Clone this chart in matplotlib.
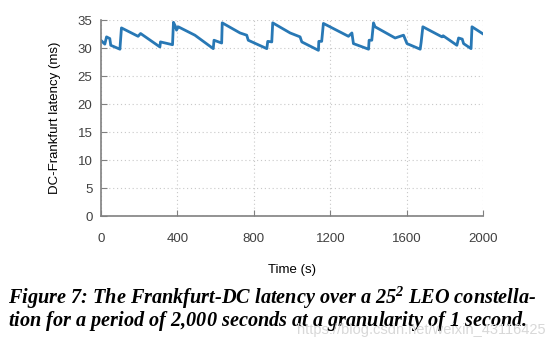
import matplotlib
matplotlib.use("Agg")
import matplotlib.pyplot as plt

# ======================================================
# DATA (line vertices)
# ======================================================
time_s = [0, 21, 30, 47, 52, 100, 102, 108, 195, 208, 309, 312, 375, 380,
          390, 396, 405, 492, 588, 592, 632, 635, 728, 763, 771, 868, 873,
          894, 899, 990, 1042, 1051, 1138, 1140, 1155, 1164, 1295, 1313,
          1321, 1400, 1403, 1417, 1426, 1434, 1539, 1583, 1601, 1670, 1675,
          1684, 1784, 1790, 1862, 1871, 1890, 1897, 1936, 1941, 2000]
latency_ms = [31.4, 30.7, 32.0, 31.7, 30.5, 29.8, 30.8, 33.6, 32.1, 32.6,
              30.2, 31.1, 30.6, 34.6, 33.9, 33.2, 33.8, 32.3, 29.9, 31.4,
              30.9, 34.5, 32.7, 32.3, 31.4, 29.9, 31.2, 31.1, 34.5, 32.7,
              32.0, 31.1, 29.6, 31.2, 31.2, 34.4, 32.1, 32.7, 30.8, 29.8,
              31.4, 31.4, 34.5, 33.8, 31.8, 32.3, 30.8, 29.8, 31.0, 33.8,
              32.0, 32.2, 30.5, 31.8, 31.6, 30.8, 29.9, 33.8, 32.5]

x_ticks = [0, 400, 800, 1200, 1600, 2000]
y_ticks = [0, 5, 10, 15, 20, 25, 30, 35]

CAPTION_1 = r"Figure 7: The Frankfurt-DC latency over a $\mathregular{25^2}$ LEO constella-"
CAPTION_2 = r"tion for a period of 2,000 seconds at a granularity of $\mathregular{1}$ second."
WATERMARK = "https://blog.csdn.net/weixin_43116425"

# ======================================================
# PLOT
# ======================================================
plt.rcParams["font.family"] = ["Liberation Sans", "DejaVu Sans"]

fig = plt.figure(figsize=(5.6, 3.52), dpi=100)
ax = fig.add_axes([0.180, 0.386, 0.683, 0.557])

ax.plot(time_s, latency_ms, color="#2878b5", lw=2.0)

ax.set_xlim(0, 2000)
ax.set_ylim(0, 35)
ax.set_xticks(x_ticks)
ax.set_yticks(y_ticks)
ax.grid(True, linestyle=(0, (1, 2.5)), color="#c8c8c8", lw=0.8)

for s in ["top", "right"]:
    ax.spines[s].set_visible(False)
for s in ["left", "bottom"]:
    ax.spines[s].set_color("#808080")
    ax.spines[s].set_linewidth(1.2)

ax.tick_params(direction="in", length=4, color="#808080",
               labelsize=9.5, labelcolor="#404040", pad=6)
ax.tick_params(axis="x", pad=12)
ax.set_xlabel("Time (s)", fontsize=9.5, labelpad=14)
ax.set_ylabel("DC-Frankfurt latency (ms)", fontsize=9.5, labelpad=12)

cap_font = dict(family="Liberation Serif", style="italic", weight="bold",
                fontsize=14.6)
fig.text(0.014, 0.138, CAPTION_1, **cap_font)
fig.text(0.014, 0.074, CAPTION_2, **cap_font)
fig.text(0.975, 0.052, WATERMARK, ha="right", fontsize=10.5,
         color="#d8d8d8")

fig.savefig("out.png", dpi=100)
